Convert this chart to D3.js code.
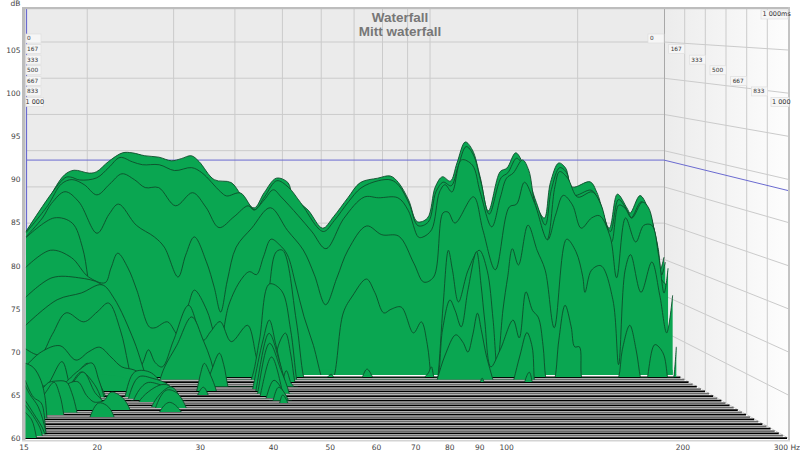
<!DOCTYPE html>
<html><head><meta charset="utf-8">
<script src="https://cdn.jsdelivr.net/npm/d3@7/dist/d3.min.js"></script>
<style>html,body{margin:0;padding:0;background:#fff}svg{display:block}text{font-family:"DejaVu Sans",sans-serif}</style>
</head><body><svg id="c" width="800" height="453"></svg>
<script>
const chartTitle = "Waterfall", chartSubtitle = "Mitt waterfall";
const dbTicks = [60,65,70,75,80,85,90,95,100,105];
const hzGrid = [20,30,40,50,60,70,80,90,100,200];
const hzLabels = [15,20,30,40,50,60,70,80,90,100,200];
const timeGrid = [167,333,500,667,833];
const timeLabels = ["0","167","333","500","667","833","1 000"];
const referenceDb = 88.7;

// [Hz, dB] traces; the number is the time of the slice in ms
const s0 = [[15,78.9],[16.2,81.4],[17.1,84.6],[18,86.7],[18.8,87.3],[20.2,86.9],[20.9,87.1],[22.1,88.5],[23.6,89.7],[24.7,89.7],[26.2,89.3],[28,89.1],[29.7,88.6],[31.1,88.9],[32.6,89.3],[33.8,88.5],[36.3,86],[39.3,85.6],[41.2,83.9],[43.8,82.1],[45.9,84.2],[48.6,86.2],[51.3,85.6],[52.6,83.6],[56.4,81.8],[60.4,79.3],[63.6,80.9],[68,83.5],[72.1,85.6],[78.2,86.2],[83,86.5],[86.2,85.6],[90.4,83.2],[94.2,80.2],[98.8,80.7],[102.5,85],[106,86.4],[110,85.8],[113.5,88.3],[118,91.2],[122,90.1],[126.5,86.4],[131.5,81.7],[139,87.1],[143.5,87.6],[149.5,89.7],[154.5,88.3],[164,82.8],[171,80.7],[176,85.6],[183,88.3],[189,87.6],[195,85],[212,85.7],[219,84.2],[232,79.3],[241,84],[252,82.1],[256,81.4],[268,83.8],[278,82.1],[290,77.3],[294.5,73.5],[300,75.3]];
const s10 = [[15,78.9],[18,86.3],[18.5,86.4],[19.3,86],[20.9,86.3],[22.1,87.7],[23.3,89.1],[24.7,88.5],[25.9,88.1],[28,88.1],[30.1,87.3],[32.6,87.7],[34.2,87],[37.3,84.4],[38.4,83.8],[41,84.2],[43.8,81.9],[45.9,83.7],[48.6,85.9],[51.3,85],[54.3,82.9],[60.4,78.9],[63.6,80.4],[68,83],[72.1,84.9],[78.2,85.9],[83,86],[86.2,85.2],[90.4,82.7],[94.2,79.7],[98.8,80.2],[102.5,84.4],[106,85.7],[110,85.2],[113.5,87.7],[118,90.6],[122,89.5],[126.5,85.7],[131.5,81.3],[139,86.3],[143.5,87],[149.5,89],[154.5,87.8],[164,82.9],[171,79.8],[176,84.7],[183,87.7],[189,87],[195,83.9],[212,84.6],[219,83.3],[232,78.9],[241,83.3],[252,81.6],[256,80.8],[268,83],[278,81.5],[290,76.7],[295,72.9],[300,74.7]];
const s20 = [[15,78.8],[16.6,82.5],[17.7,85.5],[18.6,86.1],[19.7,85.4],[20.9,84],[22.2,85.5],[23.5,86.9],[24.9,86.1],[26.2,85],[27.9,85],[30.2,82.5],[32.7,84.3],[34.8,82.3],[37,79.5],[39.7,81],[42.4,82.5],[43.6,81.9],[45.7,83.3],[47.7,84.7],[49.5,83.7],[53.5,81.2],[57.2,78.9],[61,76.6],[66.4,80.8],[73,83.7],[78,83.6],[85.4,83.6],[89.6,81.9],[94,78.2],[96,78.2],[100,79.2],[103.8,84.4],[106.5,85.4],[110,84.4],[115,88.8],[121,88.1],[125.5,84.4],[132.5,79.6],[138,83.7],[142,86.3],[146.5,87],[153,88.8],[157.5,87.4],[162,82.9],[171.5,77.8],[178,85.1],[182,87.2],[189,86.3],[198,83.7],[212,84.4],[221,82.6],[232,77.5],[240,82.6],[247,82.2],[255,80.8],[268,83],[276,82.2],[285,77.8],[291,72.7],[300,71.6]];
const s33 = [[15,78.3],[16.2,80.9],[16.9,82.9],[18,84.5],[19.2,83.1],[20.9,78.8],[22.1,81.4],[23.1,82.8],[25.1,79.9],[27.3,78.3],[28.6,76.9],[30.5,72.8],[31.6,75.8],[32.9,78.3],[34.8,74.9],[36.1,71.4],[37.2,68],[38.4,72.4],[40,76.9],[43,79.5],[46.9,82.3],[50.8,79.2],[54.7,76.5],[57.6,73.1],[60.7,69],[64,72.7],[67.4,76.5],[73.5,79.8],[78.9,78.6],[85.4,78.4],[91.6,74.7],[96,72.1],[100.5,72.8],[105,81.6],[107.5,81.7],[111,80.2],[121,83.8],[126.5,79.2],[134,73.8],[143,82.4],[148,82.8],[153.5,85.8],[161,82.9],[171,77.9],[177.5,81.3],[184,84],[192,82.7],[200,79.5],[210,80.9],[218,81.2],[229,78.3],[236,72.7],[246,80.9],[258,77.6],[268,79.9],[278,79.9],[287,75.8],[294.5,70.6],[300,74]];
const s50 = [[15,78.3],[17.1,81],[18.6,80.3],[19.5,77],[20,72.9],[20.5,67],[20.9,60],[21.2,55]];
const base99 = [[15,60.7],[295,60.7]];
const s100 = [[15,74.6],[16.8,76.9],[18.5,75.9],[20,73.3],[21.6,72.5],[22.2,74.5],[22.9,76.5],[24,74.5],[25,71.5],[26.5,66.5],[27.2,66.4],[28.8,67.2],[30.3,65.4],[31.7,69.5],[32.6,71.5],[34.5,68.8],[35.6,65.8],[36.5,63.4],[38.2,69.5],[40.4,72.9],[42,74],[43.4,73.6],[44.8,76],[46.4,78.4],[48.3,77.6],[50,76.3],[52,72.2],[54,67.9],[56.4,64],[58.8,59.3],[60.1,58],[61.9,59.6],[64.7,68.4],[67.5,70.7],[72,73],[74.8,71.2],[78,68.4],[80.6,68.9],[84.5,69.2],[89.4,65.7],[92.7,67.2],[95.3,64.1],[97,59.6],[98.5,57],[100,59.6],[102.5,69.5],[105,76.9],[107,74.2],[110,69.9],[115,74.2],[121,76.9],[125.5,74.2],[129,67.5],[131.5,61.1],[135,68.8],[138,73.3],[141,77.1],[145,74.9],[151.5,80.3],[158,76.9],[164,74.2],[171,66.4],[181,78.4],[189,76.7],[195,73.3],[197,71.2],[203,74.2],[212,74.8],[224,70.2],[230,61.4],[237,74.2],[243,76.3],[255,71.2],[268,75.3],[278,70.8],[287,65.7],[295,70.8]];
const s133 = [[15,70.8],[16.9,73.4],[19.1,73.4],[21.1,72.6],[22.2,70.7],[23.3,65.4],[24,60.7],[24.7,60.3],[25.6,61.9],[26.3,63.7],[27.1,62],[28,61.4],[29.5,65],[31.6,69.7],[33.8,65],[34.9,66.1],[36.5,67.5],[38.4,64.8],[41.4,67],[43.4,62.3],[45.4,70.4],[47.2,76.9],[48.6,77.1],[51.7,67.7],[53.5,60],[54.9,57.6],[58,57.6],[59.5,59.9],[60.7,60.4],[61.5,59.9],[64,57.6],[69,57.6],[70,60],[71.5,61.1],[73.5,59.9],[76,57.6],[90,57.6],[92.9,59.9],[94.7,60.6],[96,61.4],[97.4,59.9],[98.6,60],[101,66.4],[104.5,70.4],[107,69],[110,66.8],[113.5,71.8],[118,76.9],[120.5,72.4],[122.5,67.7],[126,61.4],[131.5,63.7],[139.5,67.7],[143.5,65.3],[148,71.5],[152.5,69],[156.5,68.1],[160,64.3],[162,59.9],[165,57.6],[169,59.9],[172,65],[177,69.7],[182,66.8],[185,64.1],[189,64.1],[191,59.9],[197,57.6],[218,57.6],[226,59.9],[230,63.7],[238,67],[245,63.7],[250,59.9],[255,57.6],[258,59.9],[267,64.4],[277,63.3],[283,59.9],[286,57.6],[291,59.9],[294.5,64.1]];
const s167 = [[15,67.3],[17.3,70.7],[19.3,71.6],[21.2,72.7],[22.4,70.9],[24.5,65.3],[25.4,62.2],[26.1,59.7],[26.8,57.5],[27.6,60],[28.2,61.7],[29.8,64.6],[31.9,68.4],[33.6,65.3],[34.8,62.6],[35.6,60],[36.5,57.5],[39.8,57.5],[41.8,60],[43.4,65.3],[45.4,72.8],[48,71.9],[50,66.7],[51.4,60],[52.2,57.5],[95,57.5],[97.4,60],[101,63.3],[106,66],[109.5,65],[112,63.7],[114.5,66],[117,68.9],[119,66.7],[122,63],[125.5,60],[128,57.5],[135,57.5],[138,60],[142,63.3],[146.5,66.3],[150,64.4],[151.5,60],[153,57.5]];
const s200 = [[15,64.4],[16,63.6],[16.9,66.3],[18,69.2],[19.5,68],[20.7,69.3],[21.8,70.5],[23,66.9],[23.8,62.5],[24.2,60],[24.7,57.6],[45,57.6],[45.9,60],[47,64.9],[48.5,66.5],[49.7,63.6],[50.6,60],[51.6,57.6],[115,57.6],[117,60],[118,60.5],[119,60],[120.5,57.6],[142,57.6],[143,60],[146,61.3],[148,60],[150,57.6]];
const s233 = [[15,62.4],[16.1,64.3],[17.5,65.1],[18.8,63.2],[19.9,64.3],[20.9,64.9],[22,63.6],[23.1,62.3],[24.4,61.9],[25.8,60.9],[26.5,60],[27.1,57.9]];
const s267 = [[32.6,57.5],[33.5,60],[34.4,62.2],[35.6,64.4],[36.3,62.9],[37,60],[37.9,57.5],[46,57.5],[47,60],[48,62.1],[49,60.5],[49.6,60],[50.6,57.5]];
const s300 = [[40.4,57.5],[41.2,60.5],[43,66.4],[44.2,69],[45.5,65.8],[47.2,60.8],[48.2,57.5]];
const base329 = [[15,61.4],[23.7,61.4],[24,57]];
const s330 = [[31,57.5],[31.9,60],[32.4,62.1],[33,63.6],[33.9,62.1],[34.8,60],[35.3,57.5],[40.8,57.5],[41.5,60.4],[43.9,67.5],[45.9,64],[47.5,60.1],[48.3,57.5]];
const s350 = [[15,60.5],[16.1,60.8],[16.5,61],[17.6,64],[18.2,61],[18.6,59.5],[18.9,57]];
const s367 = [[41,57.5],[41.5,60.2],[43.7,66.5],[45.9,63.1],[47.6,60.1],[48.3,57.5]];
const s386 = [[31.1,57],[31.8,60],[32.6,61],[33.3,60],[33.9,57]];
const s400 = [[15,60.2],[17,60.5],[18.3,61.4],[18.9,63.1],[19.7,64.2],[20.9,61],[21.2,60.1],[21.6,57],[41,57.5],[41.7,60.1],[43.8,65],[46.1,60.1],[47,57.5]];
const s414 = [[22.8,57],[23.1,60],[24.1,63.2],[25.7,63.2],[27.4,61.5],[28.9,60],[29.5,57]];
const s420 = [[15,60.5],[17,61],[17.9,62],[18.7,63.2],[20,64.4],[20.6,62.3],[21.1,60],[21.5,57]];
const s433 = [[41.7,57.5],[42.5,60],[44,62.3],[46.4,60],[47.2,57.5]];
const s440 = [[23.1,57],[23.4,60],[24.5,62.8],[26,62.6],[27.8,61.8],[29,60],[29.6,57]];
const s450 = [[15,60.2],[17,60.5],[18,61.5],[18.3,62.1],[19.1,63.5],[20.2,61.9],[20.8,60],[21.2,57]];
const s460 = [[23.6,57],[23.9,60],[25.3,62.2],[27,61.9],[28.1,61.5],[29.3,60],[29.9,57]];
const s467 = [[42.8,57.5],[43.6,60.2],[44.6,61.7],[46.4,60.2],[47.2,57.5]];
const s486 = [[24.1,57],[24.4,60],[26.6,62.1],[27.7,62.1],[29,60],[29.6,57]];
const s500 = [[15,60.5],[16,61],[17.5,61.5],[18.3,62.5],[19.2,63.9],[20.2,61.3],[20.9,60.1],[21.3,57],[43.6,57.5],[44.5,60],[45.1,61],[46.1,60],[46.8,57.5]];
const s557 = [[25.3,57],[25.6,60],[27,62.1],[27.9,62.5],[29.4,60],[29.9,57]];
const s570 = [[25.7,57],[26,60],[27.2,62.2],[28.4,61.9],[29.6,60],[30.1,57]];
const s600 = [[15,61],[16.5,61.5],[17.3,62],[17.8,63.1],[18.7,63.5],[19.4,61.8],[20,61],[20.5,61],[20.9,61.2],[21.5,62.2],[22.5,61.6],[23.3,60],[23.7,57]];
const s630 = [[25.9,57],[26.3,60],[27.4,61.2],[28.8,60],[29.3,57]];
const s640 = [[15,61.5],[15.5,62.5],[16.1,63],[16.5,63.7],[17,63.9],[17.8,63.8],[18.2,62.5],[18.6,60.1],[18.9,57]];
const s670 = [[15,61],[15.8,61.5],[16.3,62.7],[16.9,64],[17.3,62.5],[17.6,60],[17.8,57]];
const s700 = [[19.3,57],[19.6,60],[20.3,61.7],[21,61.4],[21.6,60.2],[21.9,57]];
const s720 = [[15,66.7],[15.5,66.2],[16,64.6],[16.3,62.2],[16.4,60],[16.6,57]];
const s900 = [[15,66],[15.5,64],[16,63.3],[16.2,61.8],[16.3,59.8],[16.6,57]];
const s930 = [[15,65.6],[15.3,64.5],[15.8,63.1],[16.3,60.1],[16.5,57]];
const s950 = [[15,64],[15.5,62.5],[16.2,60.2],[16.4,57]];
const s970 = [[15,63.6],[15.5,62.3],[16,60.5],[16.2,57]];
const s1000 = [[15,63],[15.4,62.1],[15.7,60],[16,57]];
const slices = [[0,s0],[10,s10],[20,s20],[33,s33],[50,s50],[100,base99,true],[100,s100],[133,s133],[167,s167],[200,s200],[233,s233],[267,s267],[300,s300],[329,base329,true],[330,s330],[350,s350],[367,s367],[386,s386],[400,s400],[414,s414],[420,s420],[433,s433],[440,s440],[450,s450],[460,s460],[467,s467],[486,s486],[500,s500],[557,s557],[570,s570],[600,s600],[630,s630],[640,s640],[670,s670],[700,s700],[720,s720],[900,s900],[930,s930],[950,s950],[970,s970],[1000,s1000]];
const floorSliceMs = d3.range(0,31).map(i=>i*1000/30);

const svg = d3.select("#c");
const defs = svg.append("defs");
const grad = defs.append("linearGradient").attr("id","wall");
grad.append("stop").attr("offset","0").attr("stop-color","#ececec");
grad.append("stop").attr("offset","1").attr("stop-color","#fdfdfd");

const backX = d3.scaleLog().domain([15,300]).range([26,664]);
const frontX = d3.scaleLog().domain([15,300]).range([25,787]);
const backY = d3.scaleLinear().domain([60,105]).range([368,42]);
const frontY = d3.scaleLinear().domain([60,105]).range([438,50]);
const tScale = d3.scaleLinear().domain([0,1000]).range([0,1]);
const px = (hz,ms)=>{const t=tScale(ms);return backX(hz)+t*(frontX(hz)-backX(hz));};
const py = (db,ms)=>{const t=tScale(ms);return backY(db)+t*(frontY(db)-backY(db));};

const grid="#cbcbcb";
svg.append("rect").attr("x",26).attr("y",9).attr("width",638).attr("height",360).attr("fill","#ebebeb");
const wallX = d3.scaleLinear().domain([0,1000]).range([664,788]);
svg.append("path").attr("d",`M${wallX(0)},9H${wallX(1000)}V${py(60,1000)}L${wallX(0)},${py(60,0)}Z`).attr("fill","url(#wall)");
svg.selectAll(".bh").data(dbTicks).join("line").attr("x1",26).attr("x2",664).attr("y1",d=>backY(d)).attr("y2",d=>backY(d)).attr("stroke",grid).attr("stroke-width",1);
svg.selectAll(".bv").data(hzGrid).join("line").attr("x1",d=>backX(d)).attr("x2",d=>backX(d)).attr("y1",9).attr("y2",368).attr("stroke",grid);
svg.selectAll(".wh").data(dbTicks).join("line").attr("x1",664).attr("x2",788).attr("y1",d=>backY(d)).attr("y2",d=>frontY(d)).attr("stroke",grid);
svg.selectAll(".wv").data(timeGrid).join("line").attr("x1",d=>wallX(d)).attr("x2",d=>wallX(d)).attr("y1",9).attr("y2",d=>py(60,d)).attr("stroke",grid);
svg.append("line").attr("x1",664.5).attr("x2",664.5).attr("y1",9).attr("y2",368).attr("stroke","#a8a8a8");
svg.append("path").attr("d",`M26,${backY(referenceDb)}H664L788,${frontY(referenceDb)}`).attr("fill","none").attr("stroke","#6a6ad0").attr("stroke-width",1);
svg.append("line").attr("x1",26.5).attr("x2",26.5).attr("y1",9).attr("y2",438).attr("stroke","#6a6ad0").attr("stroke-width",1.2);
svg.append("path").attr("d",`M26,368H664L${frontX(300)},438H25Z`).attr("fill","#fff");
svg.selectAll(".fl").data(floorSliceMs.map((m,i)=>({m,i})).filter(d=>d.m>100)).join("line")
  .attr("x1",d=>px(15,d.m)).attr("x2",d=>px(300,d.m)).attr("y1",d=>py(60,d.m)).attr("y2",d=>py(60,d.m))
  .attr("stroke",d=>d.i%2?"#6a6a6a":"#000").attr("stroke-width",1.75);

const curve = d3.curveCatmullRom.alpha(0.5);
const line = ms=>d3.line().x(d=>px(d[0],ms)).y(d=>py(d[1],ms)).curve(curve);
const area = ms=>d3.area().x(d=>px(d[0],ms)).y0(py(60,ms)).y1(d=>py(d[1],ms)).curve(curve);
slices.forEach(([ms,pts,bodyOnly],i)=>{
  const floorY=py(60,ms), id="cl"+i;
  defs.append("clipPath").attr("id",id).append("rect").attr("x",0).attr("y",0).attr("width",800).attr("height",floorY);
  const g=svg.append("g").attr("clip-path",`url(#${id})`);
  g.append("path").attr("d",area(ms)(pts)).attr("fill","#0aa651");
  if(!bodyOnly) g.append("path").attr("d",line(ms)(pts)).attr("fill","none").attr("stroke","#0e4d2b").attr("stroke-width",0.9);
});

svg.append("rect").attr("x",22).attr("y",7).attr("width",3.5).attr("height",434).attr("fill","#bdbdbd");
svg.append("rect").attr("x",22).attr("y",7).attr("width",768).attr("height",2.2).attr("fill","#bdbdbd");
svg.append("rect").attr("x",788).attr("y",7).attr("width",2).attr("height",434).attr("fill","#c4c4c4");
svg.append("rect").attr("x",22).attr("y",440).attr("width",768).attr("height",1.5).attr("fill","#d4d4d4");

svg.selectAll(".yl").data(dbTicks).join("text").attr("x",20.5).attr("y",d=>frontY(d)+3).attr("text-anchor","end").attr("font-size",7.5).attr("fill","#444").text(d=>d);
svg.append("text").attr("x",20.5).attr("y",6).attr("text-anchor","end").attr("font-size",7.5).attr("fill","#444").text("dB");
svg.selectAll(".xl").data(hzLabels).join("text").attr("x",d=>frontX(d)-1).attr("y",450).attr("text-anchor","middle").attr("font-size",7.5).attr("fill","#444").text(d=>d);
svg.append("text").attr("x",800).attr("y",450).attr("text-anchor","end").attr("font-size",7.5).attr("fill","#444").text("300 Hz");
svg.append("text").attr("x",400).attr("y",21.5).attr("text-anchor","middle").attr("font-size",13.5).attr("font-weight","bold").attr("fill","#777").style("font-family","'Liberation Sans',sans-serif").text(chartTitle);
svg.append("text").attr("x",400).attr("y",36).attr("text-anchor","middle").attr("font-size",13.5).attr("font-weight","bold").attr("fill","#777").style("font-family","'Liberation Sans',sans-serif").text(chartSubtitle);

const boxY = d3.scaleLinear().domain([0,1000]).range([38.5,102]);
const box = (x,y,w,h,label,fs,anchorX)=>{
  svg.append("rect").attr("x",x).attr("y",y).attr("width",w).attr("height",h).attr("fill","#f6f6f6").attr("stroke","#dedede").attr("stroke-width",0.7);
  svg.append("text").attr("x",anchorX).attr("y",y+h-2.6).attr("font-size",fs).attr("fill","#333").text(label);
};
timeLabels.forEach((lab,i)=>{
  const ms=i*1000/6, y=boxY(ms)-4.5;
  const w=i===6?17.5:15;
  box(26,y,w,9,lab,i===6?6.5:5.8,i===6?25.5:27);
  const right=wallX(ms), w2=i===6?18:16;
  box(right-w2+(i===6?1:0),y,w2,9,lab,i===6?6.5:5.8,right-w2+2);
});
box(761,10,27,9,"1 000ms",6.5,762.5);
</script></body></html>
